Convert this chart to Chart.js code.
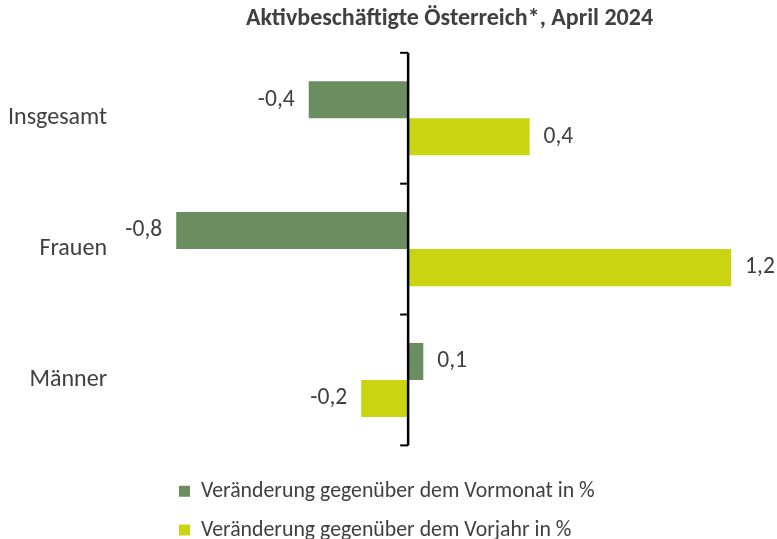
<!DOCTYPE html>
<html>
<head>
<meta charset="utf-8">
<script src="https://cdn.jsdelivr.net/npm/chart.js@4.4.1/dist/chart.umd.min.js"></script>
<style>
  html, body { margin: 0; padding: 0; background: #fff; }
  #wrap { width: 777px; height: 539px; }
</style>
</head>
<body>
<div id="wrap"><canvas id="beschChart"></canvas></div>
<script>
const categories = ['Insgesamt', 'Frauen', 'Männer'];
const vormonat = [-0.36, -0.84, 0.055];
const vorjahr = [0.44, 1.17, -0.17];
const seriesNames = ['Veränderung gegenüber dem Vormonat in %', 'Veränderung gegenüber dem Vorjahr in %'];
const titleText = 'Aktivbeschäftigte Österreich*, April 2024';

const fontFamily = 'Carlito, Calibri, Lato, sans-serif';
const textColor = '#404040';

function fmt(v) {
    return (Math.round(v * 10) / 10).toFixed(1).replace('.', ',');
}

// zero line with the little ticks + value labels
const axisAndLabels = {
    id: 'axisAndLabels',
    afterLayout(chart) {
        const ca = chart.chartArea;
        // title centred a bit left of the plot centre, legend left aligned
        chart.titleBlock.left = ca.left - 18;
        chart.titleBlock.right = ca.right;
        const lg = chart.legend;
        lg.left = 179 - lg.options.labels.padding;
        lg.top += 18;
        lg.bottom += 18;
    },
    afterDatasetsDraw(chart) {
        const ctx = chart.ctx;
        const xs = chart.scales.x;
        const ys = chart.scales.y;
        const x0 = xs.getPixelForValue(0);

        ctx.save();
        ctx.strokeStyle = '#000';
        ctx.lineWidth = 2.5;
        ctx.beginPath();
        ctx.moveTo(x0, chart.chartArea.top);
        ctx.lineTo(x0, chart.chartArea.bottom);
        ctx.stroke();
        ctx.lineWidth = 2;
        for (let i = 0; i <= categories.length; i++) {
            const y = ys.getPixelForValue(i - 0.5);
            ctx.beginPath();
            ctx.moveTo(x0 - 8, y);
            ctx.lineTo(x0, y);
            ctx.stroke();
        }

        ctx.fillStyle = textColor;
        ctx.font = '23.5px ' + fontFamily;
        ctx.textBaseline = 'middle';
        chart.data.datasets.forEach((ds, di) => {
            const meta = chart.getDatasetMeta(di);
            meta.data.forEach((bar, i) => {
                const v = ds.data[i];
                if (v < 0) {
                    ctx.textAlign = 'right';
                    ctx.fillText(fmt(v), bar.x - 14, bar.y);
                } else {
                    ctx.textAlign = 'left';
                    ctx.fillText(fmt(v), bar.x + 14, bar.y);
                }
            });
        });
        ctx.restore();
    }
};

const ctx = document.getElementById('beschChart').getContext('2d');
const beschChart = new Chart(ctx, {
    type: 'bar',
    data: {
        labels: categories,
        datasets: [{
            label: seriesNames[0],
            data: vormonat,
            backgroundColor: '#6A8E5F'
        }, {
            label: seriesNames[1],
            data: vorjahr,
            backgroundColor: '#CBD411'
        }]
    },
    options: {
        indexAxis: 'y',
        responsive: true,
        maintainAspectRatio: false,
        animation: false,
        categoryPercentage: 0.566,
        barPercentage: 1,
        layout: {
            padding: { left: 0, right: 10, top: 0, bottom: 6 }
        },
        scales: {
            x: {
                display: false,
                min: -0.935,
                max: 1.3
            },
            y: {
                offset: true,
                grid: { display: false },
                border: { display: false },
                ticks: {
                    color: textColor,
                    padding: 35,
                    font: { family: fontFamily, size: 24 }
                },
                afterFit(scale) {
                    scale.width = 150;
                    scale.paddingTop = 0;
                    scale.paddingBottom = 0;
                }
            }
        },
        plugins: {
            title: {
                display: true,
                text: titleText,
                color: textColor,
                font: { family: fontFamily, size: 24, weight: 'bold' },
                padding: { top: 5, bottom: 19 }
            },
            legend: {
                position: 'bottom',
                align: 'start',
                labels: {
                    color: textColor,
                    boxWidth: 11,
                    boxHeight: 11,
                    padding: 17,
                    font: { family: fontFamily, size: 21.8 }
                }
            },
            tooltip: { enabled: false }
        }
    },
    plugins: [axisAndLabels]
});
</script>
</body>
</html>
